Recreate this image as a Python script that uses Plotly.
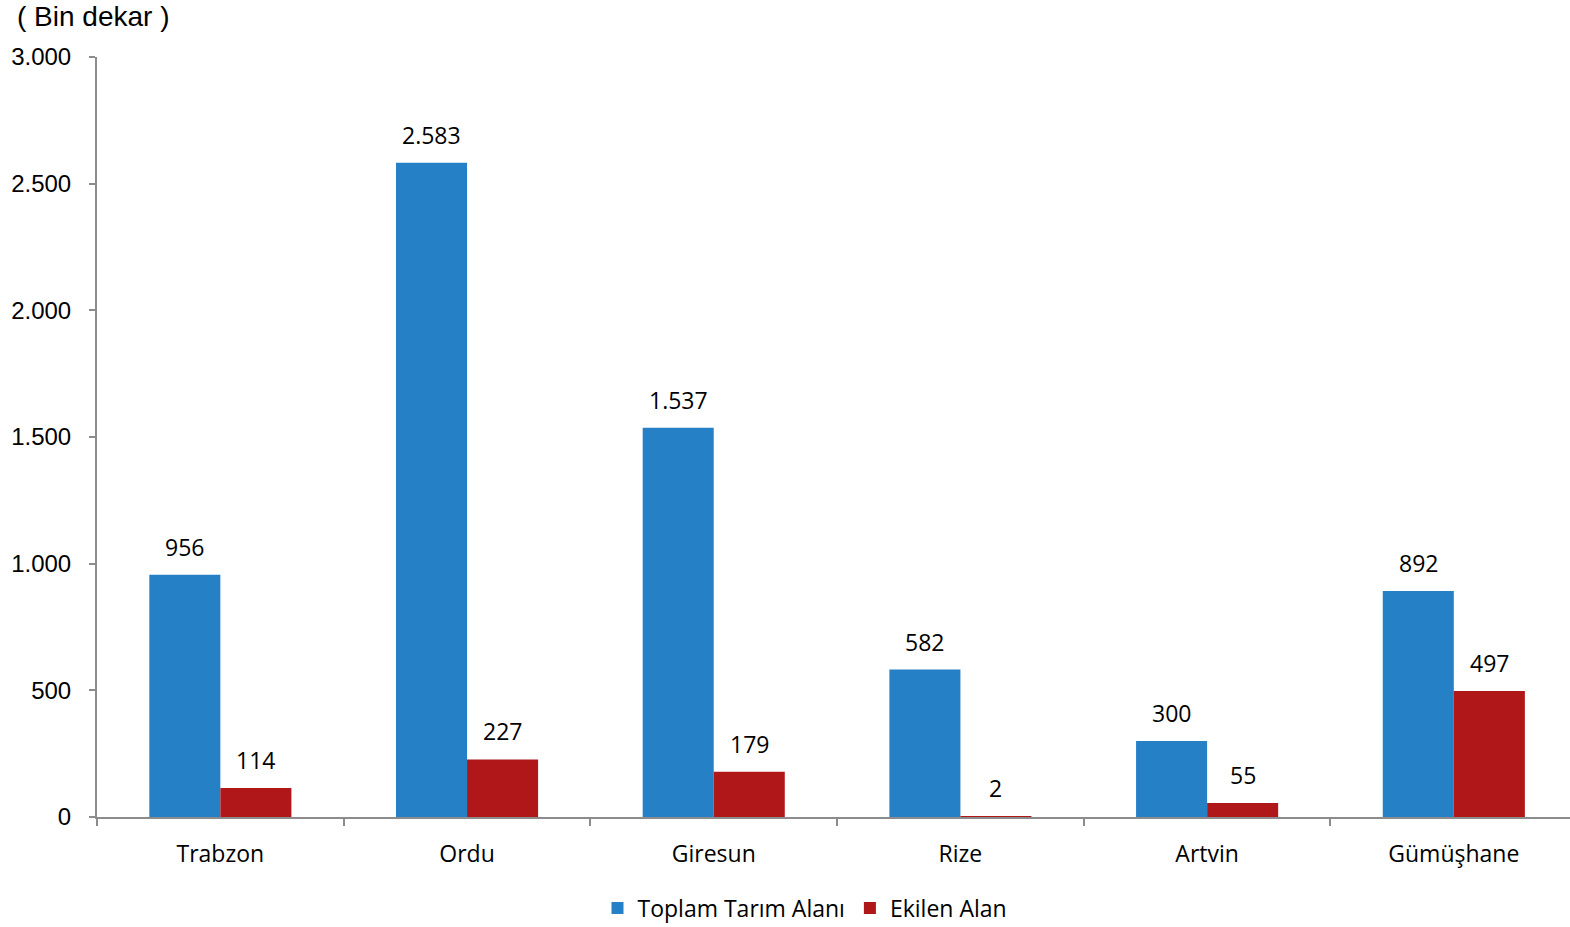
import plotly.graph_objects as go

categories = ["Trabzon", "Ordu", "Giresun", "Rize", "Artvin", "Gümüşhane"]
toplam = [956, 2583, 1537, 582, 300, 892]
ekilen = [114, 227, 179, 2, 55, 497]
series_names = ["Toplam Tarım Alanı", "Ekilen Alan"]
tick_vals = [0, 500, 1000, 1500, 2000, 2500, 3000]

BLUE = "#2680C6"
RED = "#AF1718"
LABEL_FONT = "Open Sans"
AXIS_FONT = "Liberation Sans, Arial"

def fmt(v):
    return f"{v:,}".replace(",", ".")

fig = go.Figure()
fig.add_trace(go.Bar(x=categories, y=toplam, name=series_names[0], marker_color=BLUE,
                     marker_line_width=0))
fig.add_trace(go.Bar(x=categories, y=ekilen, name=series_names[1], marker_color=RED,
                     marker_line_width=0))

W, H = 1570, 927
ml, mr, mt, mb = 97, 0, 57, 110
x_range = [-0.5, 5.471]
cat_px = (W - ml - mr) / (x_range[1] - x_range[0])
bargap = 0.424
half = (1 - bargap) / 4 * cat_px

annotations = []
for cat, a, b in zip(categories, toplam, ekilen):
    for v, sh in ((a, -half), (b, half)):
        annotations.append(dict(x=cat, y=v, xref="x", yref="y", text=fmt(v), showarrow=False,
                                xshift=sh, yanchor="bottom", yshift=10,
                                font=dict(family=LABEL_FONT, size=23, color="#000000")))
annotations.append(dict(x=(15 - ml) / (W - ml - mr), y=(H - mb - 16) / (H - mt - mb),
                        xref="x domain", yref="y domain",
                        text="( Bin dekar )", showarrow=False, xanchor="left", yanchor="middle",
                        font=dict(family=AXIS_FONT, size=28, color="#000000")))

fig.update_layout(
    width=W, height=H,
    margin=dict(l=ml, r=mr, t=mt, b=mb, pad=0),
    paper_bgcolor="white", plot_bgcolor="white",
    barmode="group", bargap=bargap, bargroupgap=0,
    showlegend=True,
    legend=dict(orientation="h", xref="container", yref="container",
                x=805 / W, y=1 - 908 / H,
                xanchor="center", yanchor="middle",
                font=dict(family=LABEL_FONT, size=23, color="#000000"),
                itemwidth=30, tracegroupgap=0),
    annotations=annotations,
    xaxis=dict(range=x_range, showline=True, linecolor="#8c8c8c", linewidth=2,
               ticks="outside", tickson="boundaries", ticklen=7, tickcolor="#8c8c8c", tickwidth=2,
               showgrid=False, zeroline=False,
               tickfont=dict(family=LABEL_FONT, size=23, color="#000000"),
               ticklabelstandoff=15),
    yaxis=dict(range=[0, 3000], tickvals=tick_vals, ticktext=[fmt(v) for v in tick_vals],
               showline=True, linecolor="#8c8c8c", linewidth=2,
               ticks="outside", ticklen=6, tickcolor="#8c8c8c", tickwidth=2,
               showgrid=False, zeroline=False,
               tickfont=dict(family=AXIS_FONT, size=24, color="#000000"),
               ticklabelstandoff=13),
)

fig.write_html("out.html", config={"displayModeBar": False},
               post_script="document.body.style.margin='0';")
